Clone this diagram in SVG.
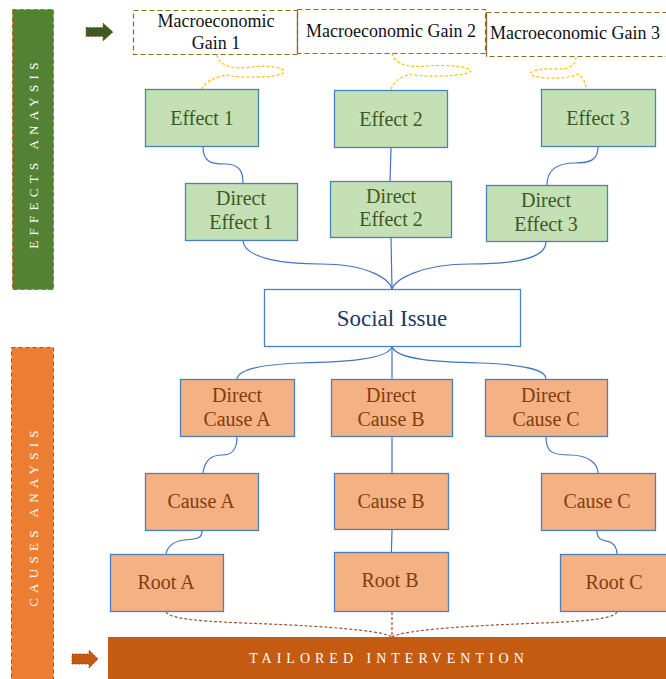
<svg xmlns="http://www.w3.org/2000/svg" width="666" height="679" viewBox="0 0 666 679" font-family="'Liberation Serif', 'DejaVu Serif', serif">
<style>
text{font-family:'Liberation Serif','DejaVu Serif',serif;text-anchor:middle}
.g rect{fill:#c5e0b4;stroke:#4a7fc1;stroke-width:1.3}
.g text{fill:#3b5a24;font-size:20px}
.o rect{fill:#f4b183;stroke:#4a7fc1;stroke-width:1.3}
.o text{fill:#843c0c;font-size:20px}
.m rect{fill:#fff;stroke:#8c6d1f;stroke-width:1.2;stroke-dasharray:5 3}
.m text{fill:#111;font-size:18px}
.c path{fill:none;stroke:#4472c4;stroke-width:1.2}
.y path{fill:none;stroke:#ffc000;stroke-width:1.2;stroke-dasharray:3 2}
.d path{fill:none;stroke:#a0522d;stroke-width:1.2;stroke-dasharray:3 2}
.side{font-size:13px;fill:#fff;letter-spacing:5.3px}
</style>
<g id="effects-bar">
<rect x="12.5" y="9.5" width="41" height="280" fill="#548235" stroke="#c55a11" stroke-dasharray="4 3"/>
<text class="side" transform="translate(38,153) rotate(-90)">EFFECTS ANAYSIS</text>
</g>
<g id="causes-bar">
<rect x="11.5" y="347.5" width="42" height="340" fill="#ed7d31" stroke="#a0522d" stroke-dasharray="4 3"/>
<text class="side" transform="translate(38,516) rotate(-90)">CAUSES ANAYSIS</text>
</g>
<g id="arrow-green">
<path d="M86,27.5 H103 V23 L113,32 L103,41 V36.5 H86 Z" fill="#3d5a1f" stroke="#a0522d" stroke-width="0.8" stroke-dasharray="2 1.5"/>
</g>
<g id="arrow-orange">
<path d="M72,654 H89 V650 L98,659 L89,668 V664 H72 Z" fill="#c55a11" stroke="#8b3a0a" stroke-width="0.8" stroke-dasharray="2 1.5"/>
</g>
<g id="connectors">
<g class="y">
<path d="M217,55 C219,66 234,70 252,67 C272,64 292,70 281,74 C270,78 238,78 226,75 C212,78 204,83 202,89"/>
<path d="M392,53 C394,64 408,68 428,66 C450,64 480,68 468,73 C455,77 420,77 410,74 C398,78 392,84 391,90"/>
<path d="M576,57 C576,66 568,70 555,69 C535,68 525,73 534,76 C548,80 572,78 578,74 C584,78 586,84 586,89"/>
</g>
<g class="c">
<path d="M203,147 C203,163 213,164 225,164 C240,164 243,172 243,183"/>
<path d="M391,148 L390,181"/>
<path d="M598,147 C598,160 590,163 575,163 C555,163 547,172 547,185"/>
<path d="M243,241 C245,260 290,264 320,264 C370,264 390,280 392,289"/>
<path d="M391,238 L392,289"/>
<path d="M546,242 C546,260 510,264 470,264 C420,264 395,280 392,289"/>
<path d="M392,346 C390,360 340,362 300,363 C250,365 238,372 237,379"/>
<path d="M392,346 L392,379"/>
<path d="M392,346 C395,360 440,362 480,363 C535,365 546,372 546,379"/>
<path d="M237,437 C237,452 230,455 222,455 C208,455 204,465 203,473"/>
<path d="M392,437 L392,473"/>
<path d="M546,437 C546,452 552,455 570,455 C590,455 598,465 598,473"/>
<path d="M202,531 C202,538 198,539 185,540 C172,541 167,548 166,554"/>
<path d="M392,530 L391,567"/>
<path d="M597,531 C597,540 602,540 610,542 C616,545 617,550 617,554"/>
</g>
<g class="d">
<path d="M166,612 C172,622 230,622 290,625 C350,628 385,632 392,637"/>
<path d="M392,612 L392,637"/>
<path d="M617,612 C612,622 555,622 495,625 C435,628 400,632 392,637"/>
</g>
</g>
<g id="gain1" class="m"><rect x="133.5" y="10.5" width="164" height="44"/><text x="216" y="27">Macroeconomic</text><text x="216" y="49">Gain 1</text></g>
<g id="gain2" class="m"><rect x="297.5" y="9.5" width="188" height="44"/><line x1="297.5" y1="9.5" x2="297.5" y2="53.5" stroke="#8c6d1f" stroke-width="1.2"/><text x="391" y="37">Macroeconomic Gain 2</text></g>
<g id="gain3" class="m"><rect x="486.5" y="12.5" width="190" height="44"/><line x1="486.5" y1="12.5" x2="486.5" y2="56.5" stroke="#8c6d1f" stroke-width="1.2"/><text x="575" y="39">Macroeconomic Gain 3</text></g>
<g id="effect1" class="g"><rect x="145.5" y="89.5" width="113" height="57"/><text x="202" y="125">Effect 1</text></g>
<g id="effect2" class="g"><rect x="334.5" y="90.5" width="113" height="57"/><text x="391" y="126">Effect 2</text></g>
<g id="effect3" class="g"><rect x="541.5" y="89.5" width="114" height="57"/><text x="598" y="125">Effect 3</text></g>
<g id="direct-effect1" class="g"><rect x="185.5" y="183.5" width="112" height="57"/><text x="241" y="205">Direct</text><text x="241" y="229">Effect 1</text></g>
<g id="direct-effect2" class="g"><rect x="330.5" y="181.5" width="121" height="56"/><text x="391" y="203">Direct</text><text x="391" y="226">Effect 2</text></g>
<g id="direct-effect3" class="g"><rect x="486.5" y="185.5" width="121" height="56"/><text x="546" y="207">Direct</text><text x="546" y="231">Effect 3</text></g>
<g id="social-issue"><rect x="264.5" y="289.5" width="256" height="57" fill="#fff" stroke="#4a7fc1" stroke-width="1.3"/><text x="392" y="326" font-size="23" fill="#203864">Social Issue</text></g>
<g id="direct-causeA" class="o"><rect x="180.5" y="379.5" width="114" height="57"/><text x="237" y="402">Direct</text><text x="237" y="426">Cause A</text></g>
<g id="direct-causeB" class="o"><rect x="331.5" y="379.5" width="121" height="57"/><text x="391" y="402">Direct</text><text x="391" y="426">Cause B</text></g>
<g id="direct-causeC" class="o"><rect x="485.5" y="379.5" width="122" height="57"/><text x="546" y="402">Direct</text><text x="546" y="426">Cause C</text></g>
<g id="causeA" class="o"><rect x="145.5" y="473.5" width="113" height="57"/><text x="201" y="508">Cause A</text></g>
<g id="causeB" class="o"><rect x="334.5" y="473.5" width="114" height="56"/><text x="391" y="508">Cause B</text></g>
<g id="causeC" class="o"><rect x="541.5" y="473.5" width="114" height="57"/><text x="597" y="508">Cause C</text></g>
<g id="rootA" class="o"><rect x="110.5" y="554.5" width="113" height="57"/><text x="166" y="589">Root A</text></g>
<g id="rootB" class="o"><rect x="334.5" y="552.5" width="114" height="59"/><text x="390" y="587">Root B</text></g>
<g id="rootC" class="o"><rect x="560.5" y="554.5" width="113" height="57"/><text x="614" y="589">Root C</text></g>
<g id="tailored-intervention">
<rect x="108" y="637" width="558" height="42" fill="#c55a11"/>
<text x="389" y="663" font-size="14" fill="#fff" letter-spacing="5">TAILORED INTERVENTION</text>
</g>
</svg>
